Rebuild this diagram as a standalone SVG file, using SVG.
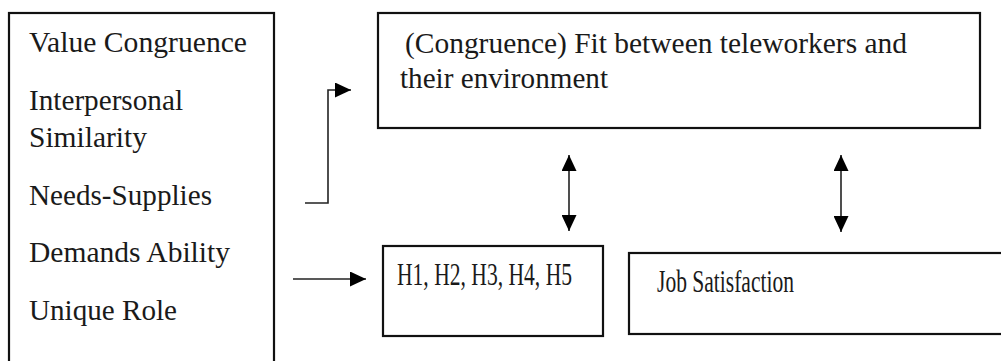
<svg xmlns="http://www.w3.org/2000/svg" width="1001" height="361" viewBox="0 0 1001 361">
<style>
.box{fill:#fff;stroke:#111;stroke-width:2.2}
.lbl{font-family:'Liberation Serif',serif;font-size:29px;fill:#1a1a1a}
.lbl2{font-family:'Liberation Serif',serif;font-size:32px;fill:#1a1a1a}
.c{fill:none;stroke:#222;stroke-width:1.6}
</style>
<defs>
<marker id="ah" markerUnits="userSpaceOnUse" markerWidth="17" markerHeight="15" refX="16" refY="7.5" orient="auto-start-reverse" viewBox="0 0 17 15">
<path d="M0,0 L16,7.5 L0,15 z" fill="#000"/>
</marker>
</defs>
<rect width="1001" height="361" fill="#fff"/>
<g id="factors">
<rect class="box" x="9" y="13" width="265" height="360"/>
<text class="lbl" x="29" y="52" textLength="218" lengthAdjust="spacingAndGlyphs">Value Congruence</text>
<text class="lbl" x="29" y="110" textLength="154" lengthAdjust="spacingAndGlyphs">Interpersonal</text>
<text class="lbl" x="29" y="147" textLength="118" lengthAdjust="spacingAndGlyphs">Similarity</text>
<text class="lbl" x="29" y="205" textLength="183" lengthAdjust="spacingAndGlyphs">Needs-Supplies</text>
<text class="lbl" x="29" y="262" textLength="201" lengthAdjust="spacingAndGlyphs">Demands Ability</text>
<text class="lbl" x="29" y="320" textLength="148" lengthAdjust="spacingAndGlyphs">Unique Role</text>
</g>
<g id="congruence">
<rect class="box" x="378" y="13" width="602" height="115"/>
<text class="lbl" x="405" y="53" textLength="502" lengthAdjust="spacingAndGlyphs">(Congruence) Fit between teleworkers and</text>
<text class="lbl" x="400" y="88" textLength="208" lengthAdjust="spacingAndGlyphs">their environment</text>
</g>
<g id="hypotheses">
<rect class="box" x="383" y="246" width="220" height="90"/>
<text class="lbl2" x="397" y="285" textLength="175" lengthAdjust="spacingAndGlyphs">H1, H2, H3, H4, H5</text>
</g>
<g id="satisfaction">
<rect class="box" x="629" y="253" width="380" height="81"/>
<text class="lbl2" x="657" y="292" textLength="137" lengthAdjust="spacingAndGlyphs">Job Satisfaction</text>
</g>
<g id="connectors">
<path class="c" d="M305,203 H328 V90 H351" marker-end="url(#ah)" stroke="#555"/>
<path class="c" d="M293,279 H366" marker-end="url(#ah)"/>
<path class="c" d="M569,155 V231" marker-start="url(#ah)" marker-end="url(#ah)"/>
<path class="c" d="M841,155 V232" marker-start="url(#ah)" marker-end="url(#ah)"/>
</g>
</svg>
